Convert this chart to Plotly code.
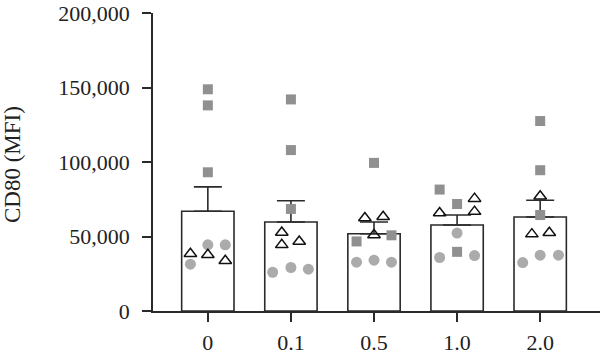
import plotly.graph_objects as go

categories = ["0", "0.1", "0.5", "1.0", "2.0"]
bar_means = [66900, 59700, 51800, 57700, 63100]
bar_sem = [16400, 14300, 7900, 6700, 11200]

squares = [[148800, 138000, 93100], [142000, 108000, 68500], [99400, 46700, 50800],
           [81500, 71800, 39700], [127500, 94500, 64400]]
circles = [[31400, 44400, 44400], [26000, 29200, 28100], [32800, 34100, 32800],
           [35900, 52300, 37200], [32500, 37500, 37500]]
triangles = [[38400, 37700, 33700], [52700, 44400, 46700], [62400, 63300, 51000],
             [65800, 75400, 66700], [77000, 51600, 52500]]

# horizontal jitter (category units) used in the original dot plot
sq_jit = [[0, 0, 0], [0, 0, 0], [0, -0.21, 0.21], [-0.21, 0, 0], [0, 0, 0]]
ci_jit = [[-0.21, 0, 0.21], [-0.22, 0, 0.21], [-0.21, 0, 0.21], [-0.21, 0, 0.21], [-0.21, 0, 0.22]]
tr_jit = [[-0.21, 0, 0.21], [-0.11, -0.11, 0.10], [-0.11, 0.11, 0], [-0.21, 0.21, 0.21], [0, -0.10, 0.11]]

xs = list(range(len(categories)))

def flat(vals, jit):
    px, py = [], []
    for i, (v, j) in enumerate(zip(vals, jit)):
        for a, b in zip(v, j):
            px.append(i + b)
            py.append(a)
    return px, py

fig = go.Figure()
fig.add_trace(go.Bar(
    x=xs, y=bar_means, width=0.63,
    marker=dict(color="white", line=dict(color="#2a2a2a", width=1.6)),
    error_y=dict(type="data", symmetric=False, array=bar_sem, arrayminus=[0]*5,
                 color="#2a2a2a", thickness=1.6, width=14),
    showlegend=False,
))

sx, sy = flat(squares, sq_jit)
fig.add_trace(go.Scatter(x=sx, y=sy, mode="markers",
    marker=dict(symbol="square", size=10, color="#909090", line=dict(width=0)), showlegend=False))
cx, cy = flat(circles, ci_jit)
fig.add_trace(go.Scatter(x=cx, y=cy, mode="markers",
    marker=dict(symbol="circle", size=11, color="#ababab", line=dict(width=0)), showlegend=False))
tx, ty = flat(triangles, tr_jit)
fig.add_trace(go.Scatter(x=tx, y=ty, mode="markers",
    marker=dict(symbol="triangle-up-open", size=11, color="#111111", line=dict(width=1.5)), showlegend=False))

font = dict(family="Liberation Serif, DejaVu Serif, serif", size=22, color="#222")
fig.update_layout(
    width=600, height=354,
    margin=dict(l=153, r=0, t=13, b=43),
    plot_bgcolor="white", paper_bgcolor="white",
    font=font,
    xaxis=dict(range=[-0.66, 4.72], tickvals=xs, ticktext=categories, automargin=False,
               showgrid=False, zeroline=False, showline=True, linecolor="#2a2a2a", linewidth=1.6,
               ticks="outside", ticklen=9, tickwidth=1.6, tickcolor="#2a2a2a", tickfont=font,
               ticklabelstandoff=2),
    yaxis=dict(range=[0, 200000], tickvals=[0, 50000, 100000, 150000, 200000],
               ticktext=["0", "50,000", "100,000", "150,000", "200,000"], automargin=False,
               showgrid=False, zeroline=False, showline=True, linecolor="#2a2a2a", linewidth=1.6,
               ticks="outside", ticklen=9, tickwidth=1.6, tickcolor="#2a2a2a", tickfont=font,
               ticklabelstandoff=8),
    annotations=[dict(text="CD80 (MFI)", textangle=-90, xref="paper", yref="paper",
                      x=(13 - 153) / 447, y=(311 - 165) / 298, xanchor="center", yanchor="middle",
                      showarrow=False, font=dict(family=font["family"], size=23, color="#222"))],
)
fig.write_html("out.html")
